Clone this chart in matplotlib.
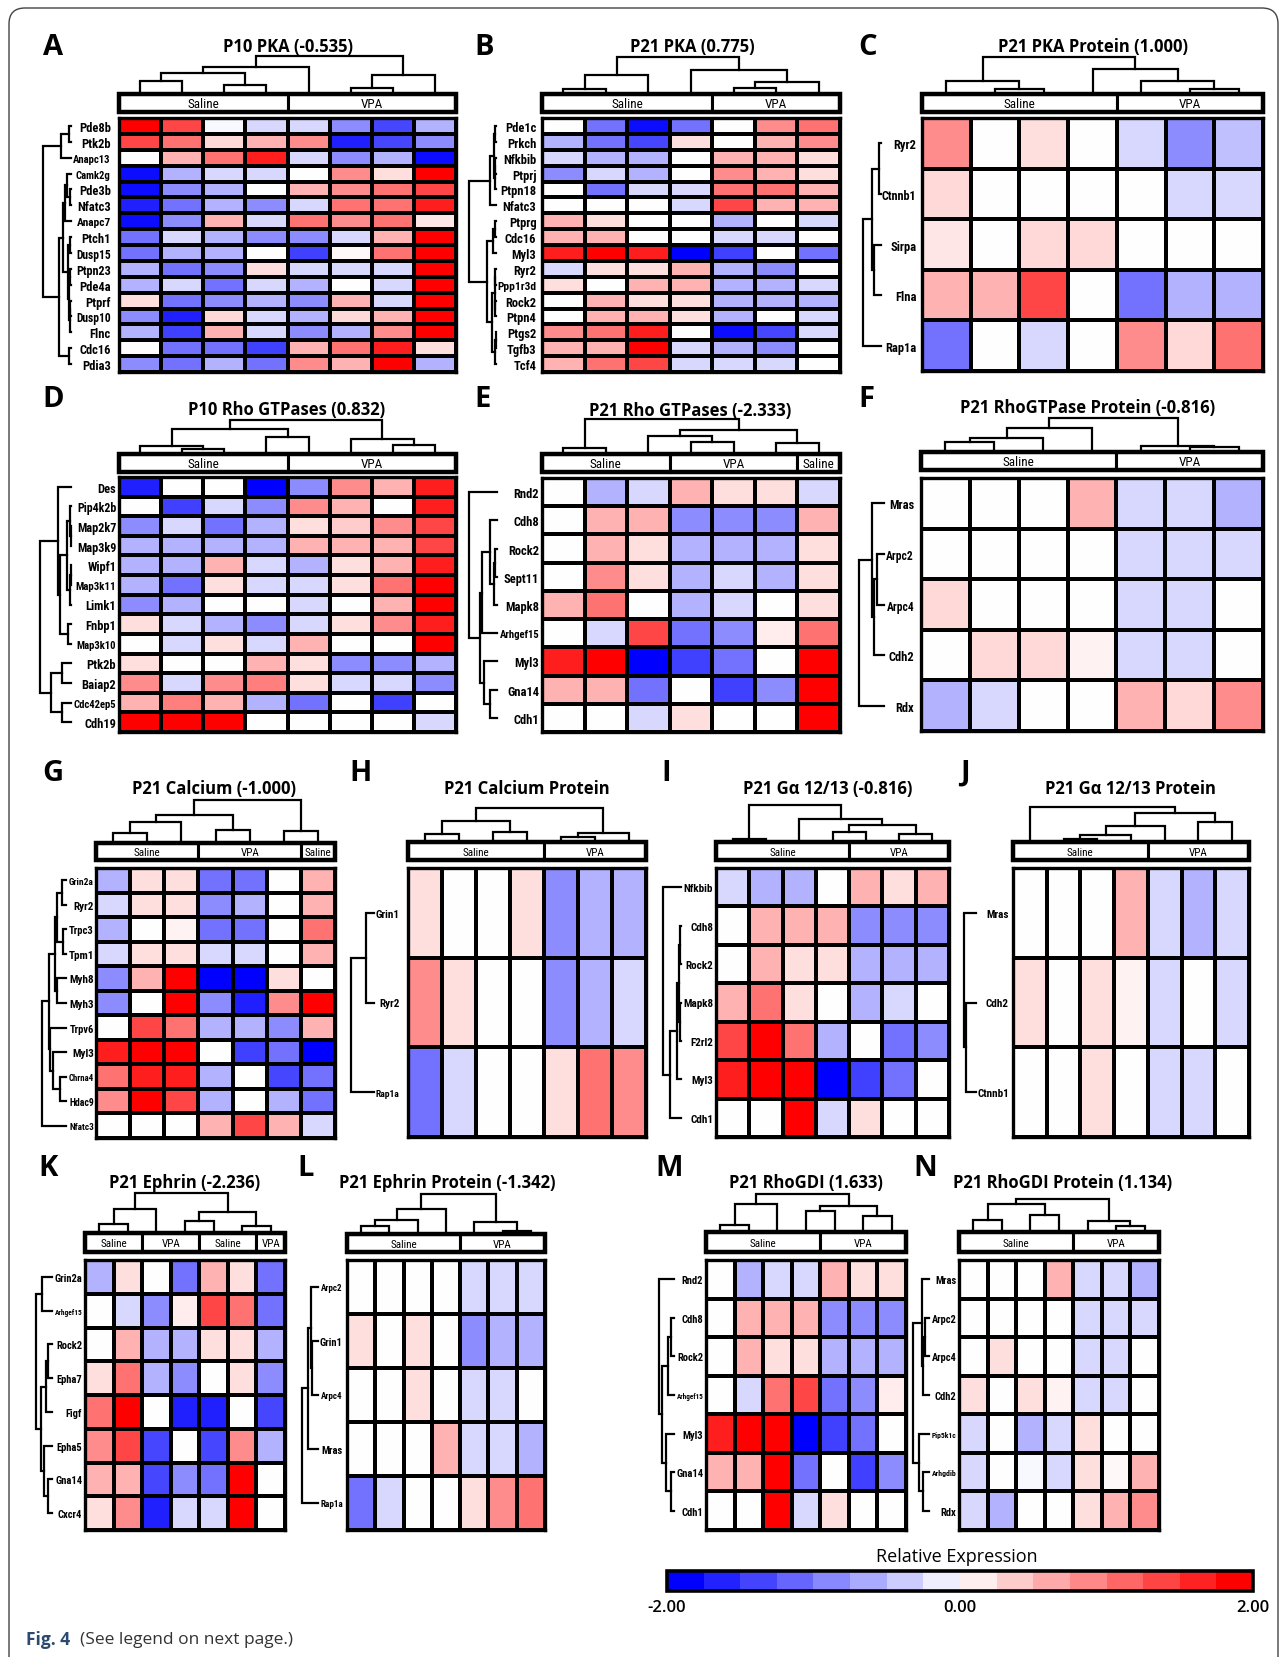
import numpy as np
import matplotlib
matplotlib.use("Agg")
import matplotlib.pyplot as plt
from matplotlib import font_manager
from matplotlib.font_manager import FontProperties
from matplotlib.textpath import TextPath
from matplotlib.colors import LinearSegmentedColormap, BoundaryNorm, Normalize
from matplotlib.patches import Rectangle, FancyBboxPatch
from matplotlib.cm import ScalarMappable

# ---------------- data ----------------
# trees: leaf = column/row index, node = (height, left, right)
A_title = "P10 PKA (-0.535)"
A_groups = [("Saline", 4), ("VPA", 4)]
A_genes = ["Pde8b", "Ptk2b", "Anapc13", "Camk2g", "Pde3b", "Nfatc3", "Anapc7", "Ptch1",
           "Dusp15", "Ptpn23", "Pde4a", "Ptprf", "Dusp10", "Flnc", "Cdc16", "Pdia3"]
A_vals = [[2, 1.45, -0.05, -0.3, -0.3, -0.9, -1.45, -0.6],
          [1.45, 1.1, 0.3, 0.6, 0.9, -1.75, -1.45, -0.9],
          [0, 0.6, 1.1, 1.75, -0.3, -0.9, -0.6, -1.9],
          [-1.9, -0.6, -0.3, -0.3, 0, 0.9, 0.25, 2],
          [-1.9, -0.9, -0.6, 0, 0.6, 0.9, 1.1, 1.45],
          [-1.75, -1.1, -0.6, -0.9, -0.3, 1.1, 1.1, 1.75],
          [-1.9, -0.9, 0.6, -0.3, 1.1, 0.9, 1.1, 0.2],
          [-1.1, -0.3, -0.6, -0.9, -0.9, -0.3, 0.6, 2],
          [-1.1, -0.6, -0.6, 0, -1.5, 0.05, 1.1, 2],
          [-0.6, -1.1, -0.9, 0.25, -0.3, -0.3, -0.3, 2],
          [-0.6, -0.3, -1.1, -0.3, -0.6, 0, -0.3, 2],
          [0.25, -1.1, -0.9, -0.6, -0.9, 0.6, -0.3, 2],
          [-0.9, -1.75, 0.3, -0.3, -0.6, 0.3, 0.6, 2],
          [-0.6, -1.5, 0.6, -0.3, -0.9, -0.6, 0.9, 2],
          [0, -1.1, -1.1, -1.5, 0.6, 1.1, 1.75, 0.25],
          [-0.9, -1.1, -0.6, -1.1, 0.9, 0.6, 2, -0.6]]
A_ctree = (112, (79, (62, (37, 0, 1), (27, 2, 3)), 4), (57, (17, 5, 6), 7))
A_rtree = (85, (30, (5, 0, 1), 2),
           (37, (25, (17, (13, 3, (2, 4, 5)), 6),
                 (10, (3, 7, 8), (6, (3, 9, 10), (4, (2, 11, 12), 13)))), (5, 14, 15)))

B_title = "P21 PKA (0.775)"
B_groups = [("Saline", 4), ("VPA", 3)]
B_genes = ["Pde1c", "Prkch", "Nfkbib", "Ptprj", "Ptpn18", "Nfatc3", "Ptprg", "Cdc16",
           "Myl3", "Ryr2", "Ppp1r3d", "Rock2", "Ptpn4", "Ptgs2", "Tgfb3", "Tcf4"]
B_vals = [[0, -1.1, -1.9, -1.1, 0, 0.9, 1.1],
          [-0.6, -1.1, -1.45, 0.25, 0, 0.6, 0.9],
          [-0.3, -0.6, -0.6, 0, 0.6, 0.6, 0.25],
          [-0.9, -0.3, -0.6, 0, 0.9, 0.6, 0.25],
          [0, -1.1, -0.3, -0.3, 1.1, 1.1, 0.6],
          [0, 0, 0, -0.3, 1.45, 0.6, 0.6],
          [0.6, 0.25, 0, 0, -0.6, 0, -0.3],
          [0.6, 0.6, 0, 0, -0.3, -0.3, 0],
          [1.75, 2, 1.75, -2, -1.5, 0, -1.1],
          [-0.3, 0.25, 0.25, 0.6, -0.6, -0.9, 0],
          [0.25, 0, 0.6, 0.6, -0.6, -0.6, -0.3],
          [0, 0.6, 0.25, 0.25, -0.6, -0.6, -0.6],
          [0, 0.6, 0.6, 0.25, -0.6, 0, -0.3],
          [0.9, 1.1, 1.75, 0, -1.9, -1.45, -0.3],
          [0.6, 0.6, 2, -0.3, -0.6, -0.9, 0],
          [0.6, 1.1, 1.45, -0.3, -0.3, -0.3, 0]]
B_ctree = (109, (57, (15, 0, 1), 2), (72, 3, (35, (17, 4, 5), 6)))
B_rtree = (80, (17, (6, (3, 0, 1), (4, (2, 2, 3), 4)), 5),
           (27, (8, (3, 6, 7), 8), (12, (3, (2, 9, 10), (2, 11, 12)), (3, (1, 13, 14), 15))))

C_title = "P21 PKA Protein (1.000)"
C_groups = [("Saline", 4), ("VPA", 3)]
C_genes = ["Ryr2", "Ctnnb1", "Sirpa", "Flna", "Rap1a"]
C_vals = [[0.9, 0, 0.25, 0, -0.3, -0.9, -0.5],
          [0.3, 0, 0, 0, 0, -0.3, -0.3],
          [0.2, 0, 0.3, 0.3, 0, 0, 0],
          [0.6, 0.6, 1.45, 0, -1.1, -0.6, -0.6],
          [-1.1, 0, -0.3, 0, 0.9, 0.3, 1.1]]
C_ctree = (109, (39, 0, (15, 1, 2)), (75, 3, (39, 4, (14, 5, 6))))
C_rtree = (55, (28, (5, 0, 1), (20, 2, 3)), 4)

D_title = "P10 Rho GTPases (0.832)"
D_groups = [("Saline", 4), ("VPA", 4)]
D_genes = ["Des", "Pip4k2b", "Map2k7", "Map3k9", "Wipf1", "Map3k11", "Limk1", "Fnbp1",
           "Map3k10", "Ptk2b", "Baiap2", "Cdc42ep5", "Cdh19"]
D_vals = [[-1.75, 0, 0, -2, -0.9, 0.9, 0.6, 1.75],
          [0, -1.5, -0.3, -0.9, 0.9, 0.6, 0, 1.75],
          [-0.9, -0.3, -1.1, -0.6, 0.25, 0.4, 0.9, 1.45],
          [-0.6, -0.6, -0.6, -0.6, 0.6, 0.6, 0.6, 1.45],
          [-0.6, -0.6, 0.6, -0.3, -0.6, 0.25, 0.6, 1.75],
          [-0.6, -1.1, 0.25, -0.3, -0.3, 0.25, 1.1, 2],
          [-0.9, -0.6, 0, 0, -0.3, 0, 0.6, 2],
          [0.25, -0.3, -0.6, -0.9, -0.3, 0.25, 0.9, 1.75],
          [0, -0.3, 0.25, -0.3, 0.6, 0, 0, 2],
          [0.25, 0, 0, 0.6, 0.25, -0.9, -0.9, -0.6],
          [0.9, -0.3, 0.9, 1.0, 0.25, -0.3, -0.3, -0.9],
          [0.6, 1.0, 0.6, -0.6, -1.1, 0, -1.5, 0],
          [2, 2, 2, 0, 0, 0, 0, -0.3]]
D_ctree = (100, (73, (23, 0, (15, 1, 2)), (50, 3, 4)), (45, 5, (27, 6, 7)))
D_rtree = (105, (45, 0, (38, (15, (5, 1, (3, 2, 3)), (6, (3, 4, 5), 6)), (12, 7, 8))),
           (68, (30, 9, 10), (30, 11, 12)))

E_title = "P21 Rho GTPases (-2.333)"
E_groups = [("Saline", 3), ("VPA", 3), ("Saline", 1)]
E_genes = ["Rnd2", "Cdh8", "Rock2", "Sept11", "Mapk8", "Arhgef15", "Myl3", "Gna14", "Cdh1"]
E_vals = [[0, -0.6, -0.3, 0.6, 0.25, 0.25, -0.3],
          [0, 0.6, 0.6, -0.9, -0.9, -0.9, 0.6],
          [0, 0.6, 0.25, -0.6, -0.6, -0.6, 0.25],
          [0, 0.9, 0.25, -0.6, -0.3, -0.6, 0.25],
          [0.6, 1.1, 0, -0.6, -0.3, 0, 0.25],
          [0, -0.3, 1.45, -1.1, -0.9, 0.15, 1.1],
          [1.75, 2, -2, -1.5, -1.1, 0, 2],
          [0.6, 0.6, -1.1, 0, -1.5, -0.9, 2],
          [0, 0, -0.3, 0.25, 0, 0, 2]]
E_ctree = (103, (17, 0, 1), (72, (52, 2, (35, 3, 4)), (33, 5, 6)))
E_rtree = (83, 0, (50, (45, (20, 1, (10, (5, 2, 3), 4)), 5), (40, 6, (20, 7, 8))))

F_title = "P21 RhoGTPase Protein (-0.816)"
F_groups = [("Saline", 4), ("VPA", 3)]
F_genes = ["Mras", "Arpc2", "Arpc4", "Cdh2", "Rdx"]
F_vals = [[0, 0, 0, 0.6, -0.3, -0.3, -0.6],
          [0, 0, 0, 0, -0.3, -0.3, -0.3],
          [0.3, 0, 0, 0, -0.3, -0.3, 0],
          [0, 0.3, 0.3, 0.1, -0.3, -0.3, 0],
          [-0.6, -0.3, 0, 0, 0.6, 0.3, 0.9]]
F_ctree = (98, (70, (40, (28, 0, 1), 2), 3), (18, 4, (13, 5, 6)))
F_rtree = (75, (35, 0, (30, (20, 1, 2), 3)), 4)

G_title = "P21 Calcium (-1.000)"
G_groups = [("Saline", 3), ("VPA", 3), ("Saline", 1)]
G_genes = ["Grin2a", "Ryr2", "Trpc3", "Tpm1", "Myh8", "Myh3", "Trpv6", "Myl3", "Chrna4",
           "Hdac9", "Nfatc3"]
G_vals = [[-0.6, 0.25, 0.25, -1.1, -1.1, 0, 0.6],
          [-0.3, 0.25, 0.25, -0.9, -0.6, 0, 0.6],
          [-0.6, 0, 0.1, -1.1, -1.1, 0, 1.1],
          [-0.3, 0.25, 0.25, -0.3, -0.3, 0, 0.6],
          [-0.9, 0.6, 2, -2, -2, 0.25, 0],
          [-0.9, 0, 2, -0.9, -1.75, 0.9, 2],
          [0, 1.45, 1.1, -0.6, -0.6, -0.9, 0.6],
          [1.75, 2, 2, 0, -1.5, -1.1, -2],
          [1.1, 1.75, 1.75, -0.6, 0, -1.45, -1.1],
          [0.9, 2, 1.45, -0.6, 0, -0.6, -1.1],
          [0, 0, 0, 0.6, 1.45, 0.6, -0.3]]
G_ctree = (125, (80, (60, (30, 0, 1), 2), (37, 3, 4)), (35, 5, 6))
G_rtree = (65, (47, (30, (25, (10, 0, 1), (8, 2, 3)), (25, 4, 5)),
                (43, 6, (35, 7, (17, 8, 9)))), 10)

H_title = "P21 Calcium Protein"
H_groups = [("Saline", 4), ("VPA", 3)]
H_genes = ["Grin1", "Ryr2", "Rap1a"]
H_vals = [[0.25, 0, 0, 0.25, -0.9, -0.6, -0.6],
          [0.9, 0.25, 0, 0, -0.9, -0.6, -0.3],
          [-1.1, -0.3, 0, 0, 0.25, 1.1, 0.9]]
H_ctree = (98, (61, (23, 0, 1), (28, 2, 3)), (26, (13, 4, 5), 6))
H_rtree = (70, (25, 0, 1), 2)

I_title = "P21 G\u03b1 12/13 (-0.816)"
I_groups = [("Saline", 4), ("VPA", 3)]
I_genes = ["Nfkbib", "Cdh8", "Rock2", "Mapk8", "F2rl2", "Myl3", "Cdh1"]
I_vals = [[-0.3, -0.6, -0.6, 0, 0.6, 0.25, 0.6],
          [0, 0.6, 0.6, 0.6, -0.9, -0.9, -0.9],
          [0, 0.6, 0.25, 0.25, -0.6, -0.6, -0.6],
          [0.6, 1.1, 0.25, 0, -0.6, -0.3, 0],
          [1.45, 2, 1.1, -0.6, 0, -1.1, -0.9],
          [1.75, 2, 2, -2, -1.5, -1.1, 0],
          [0, 0, 2, -0.3, 0.25, 0, 0]]
I_ctree = (108, (8, 0, 1), (68, 2, (50, (28, 3, 4), (23, 5, 6))))
I_rtree = (55, 0, (35, (13, (7, (3, 1, 2), (3, 3, 4)), 5), 6))

J_title = "P21 G\u03b1 12/13 Protein"
J_groups = [("Saline", 4), ("VPA", 3)]
J_genes = ["Mras", "Cdh2", "Ctnnb1"]
J_vals = [[0, 0, 0, 0.6, -0.3, -0.6, -0.3],
          [0.25, 0, 0.25, 0.1, -0.3, 0, -0.3],
          [0, 0, 0.25, 0, -0.3, -0.3, 0]]
J_ctree = (103, 0, (86, (48, (20, (10, 1, 2), 3), 4), (60, 5, 6)))
J_rtree = (30, 0, (25, 1, 2))

K_title = "P21 Ephrin (-2.236)"
K_groups = [("Saline", 2), ("VPA", 2), ("Saline", 2), ("VPA", 1)]
K_genes = ["Grin2a", "Arhgef15", "Rock2", "Epha7", "Figf", "Epha5", "Gna14", "Cxcr4"]
K_vals = [[-0.6, 0.25, 0, -1.1, 0.6, 0.25, -1.1],
          [0, -0.3, -0.9, 0.15, 1.45, 1.1, -1.1],
          [0, 0.6, -0.6, -0.6, 0.25, 0.25, -0.6],
          [0.25, 1.1, -0.6, -0.9, 0, 0.25, -0.9],
          [1.1, 2, 0, -1.75, -1.75, 0, -1.45],
          [0.9, 1.45, -1.45, 0, -1.45, 0.9, -0.6],
          [0.6, 0.6, -1.45, -0.9, -1.1, 2, 0],
          [0.25, 0.9, -1.75, -0.3, -0.3, 2, 0]]
K_ctree = (120, (72, (27, 0, 1), 2), (62, (37, 3, 4), (20, 5, 6)))
K_rtree = (62, (38, 0, 1), (42, (22, (15, 2, 3), 4), (30, 5, (15, 6, 7))))

L_title = "P21 Ephrin Protein (-1.342)"
L_groups = [("Saline", 4), ("VPA", 3)]
L_genes = ["Arpc2", "Grin1", "Arpc4", "Mras", "Rap1a"]
L_vals = [[0, 0, 0, 0, -0.3, -0.3, -0.3],
          [0.25, 0, 0.25, 0, -0.9, -0.6, -0.6],
          [0, 0, 0.25, 0, -0.3, -0.3, 0],
          [0, 0, 0, 0.6, -0.3, -0.3, -0.6],
          [-1.1, -0.3, 0, 0, 0.25, 0.9, 1.1]]
L_ctree = (117, (74, (42, (24, 0, 1), 2), 3), (35, 4, (10, 5, 6)))
L_rtree = (50, (30, (22, 0, (20, 1, 2)), 3), 4)

M_title = "P21 RhoGDI (1.633)"
M_groups = [("Saline", 4), ("VPA", 3)]
M_genes = ["Rnd2", "Cdh8", "Rock2", "Arhgef15", "Myl3", "Gna14", "Cdh1"]
M_vals = [[0, -0.6, -0.3, -0.3, 0.6, 0.25, 0.25],
          [0, 0.6, 0.6, 0.6, -0.9, -0.9, -0.9],
          [0, 0.6, 0.25, 0.25, -0.6, -0.6, -0.6],
          [0, -0.3, 1.1, 1.45, -1.1, -0.9, 0.15],
          [1.75, 2, 2, -2, -1.5, -1.1, 0],
          [0.6, 0.6, 2, -1.1, 0, -1.5, -0.9],
          [0, 0, 2, -0.3, 0.25, 0, 0]]
M_ctree = (115, (85, (22, 0, 1), 2), (80, (65, 3, 4), (48, 5, 6)))
M_rtree = (52, 0, (42, (22, (10, 1, 2), 3), (28, 4, (12, 5, 6))))

N_title = "P21 RhoGDI Protein (1.134)"
N_groups = [("Saline", 4), ("VPA", 3)]
N_genes = ["Mras", "Arpc2", "Arpc4", "Cdh2", "Pip5k1c", "Arhgdib", "Rdx"]
N_vals = [[0, 0, 0, 0.6, -0.3, -0.3, -0.6],
          [0, 0, 0, 0, -0.3, -0.3, -0.3],
          [0, 0.25, 0, 0, -0.3, -0.3, 0],
          [0.25, 0, 0.25, 0.1, -0.3, -0.3, 0],
          [-0.3, 0, -0.6, -0.3, 0.25, 0, 0],
          [-0.3, 0, -0.05, -0.3, 0.25, 0.05, 0.6],
          [-0.3, -0.6, 0, 0, 0.25, 0.6, 0.9]]
N_ctree = (100, (85, (35, 0, 1), (52, 2, 3)), (32, 4, (18, 5, 6)))
N_rtree = (55, (25, 0, (20, (15, 1, 2), 3)), (35, 4, (20, 5, 6)))

cbar_ticks = [-2, 0, 2]
cbar_labels = ["-2.00", "0.00", "2.00"]

# ---------------- layout (pixels) ----------------
# hm: heatmap box, gb: group bar y range, cd: dendrogram top, rd: row dendro x range
# lfs: gene label size, floor: smallest allowed shrink for long labels
LAYOUT = {
    "A": dict(hm=(119, 119, 456, 373), gb=(95, 113), cd=57, rd=(43, 74), title=(288, 47), letter=(43, 55), pad=6, lfs=9, floor=0.85, gfs=9.5),
    "B": dict(hm=(542, 119, 840, 373), gb=(95, 113), cd=58, rd=(469, 496), title=(692, 47), letter=(474, 55), pad=4, lfs=9, floor=0.85, gfs=9.5),
    "C": dict(hm=(922, 119, 1263, 372), gb=(95, 113), cd=58, rd=(863, 881), title=(1093, 47), letter=(858, 55), pad=4, lfs=9, floor=0.85, gfs=9.5),
    "D": dict(hm=(119, 478, 456, 733), gb=(455, 473), cd=421, rd=(40, 75), title=(287, 410), letter=(42, 407), pad=2, lfs=9, floor=0.85, gfs=9.5),
    "E": dict(hm=(542, 479, 840, 733), gb=(455, 473), cd=420, rd=(469, 497), title=(690, 411), letter=(474, 407), pad=2, lfs=9, floor=0.85, gfs=9.5),
    "F": dict(hm=(921, 479, 1263, 732), gb=(453, 471), cd=419, rd=(859, 884), title=(1088, 408), letter=(858, 407), pad=5, lfs=9, floor=0.85, gfs=9.5),
    "G": dict(hm=(96, 869, 335, 1139), gb=(844, 861), cd=801, rd=(42, 67), title=(214, 789), letter=(42, 781), pad=1.5, lfs=8, floor=0.8, gfs=8),
    "H": dict(hm=(408, 869, 646, 1138), gb=(843, 861), cd=809, rd=(351, 374), title=(527, 789), letter=(349, 781), pad=6, lfs=8, floor=0.85, gfs=8),
    "I": dict(hm=(716, 869, 949, 1138), gb=(843, 861), cd=806, rd=(663, 681), title=(828, 789), letter=(661, 781), pad=2, lfs=8, floor=0.85, gfs=8),
    "J": dict(hm=(1013, 869, 1249, 1138), gb=(843, 861), cd=808, rd=(964, 974), title=(1130, 789), letter=(960, 781), pad=3, lfs=8, floor=0.85, gfs=8),
    "K": dict(hm=(85, 1261, 285, 1531), gb=(1234, 1253), cd=1194, rd=(36, 52), title=(185, 1183), letter=(38, 1176), pad=2, lfs=7.6, floor=0.55, gfs=8),
    "L": dict(hm=(347, 1261, 545, 1531), gb=(1235, 1253), cd=1195, rd=(302, 319), title=(447, 1183), letter=(297, 1176), pad=3, lfs=7.6, floor=0.85, gfs=8),
    "M": dict(hm=(706, 1261, 906, 1531), gb=(1233, 1253), cd=1195, rd=(659, 674), title=(806, 1183), letter=(655, 1176), pad=2, lfs=7.6, floor=0.65, gfs=8),
    "N": dict(hm=(959, 1261, 1159, 1531), gb=(1233, 1253), cd=1200, rd=(913, 929), title=(1063, 1183), letter=(913, 1176), pad=2, lfs=7.6, floor=0.65, gfs=8),
}

PANELS = {
    "A": (A_title, A_groups, A_genes, A_vals, A_ctree, A_rtree),
    "B": (B_title, B_groups, B_genes, B_vals, B_ctree, B_rtree),
    "C": (C_title, C_groups, C_genes, C_vals, C_ctree, C_rtree),
    "D": (D_title, D_groups, D_genes, D_vals, D_ctree, D_rtree),
    "E": (E_title, E_groups, E_genes, E_vals, E_ctree, E_rtree),
    "F": (F_title, F_groups, F_genes, F_vals, F_ctree, F_rtree),
    "G": (G_title, G_groups, G_genes, G_vals, G_ctree, G_rtree),
    "H": (H_title, H_groups, H_genes, H_vals, H_ctree, H_rtree),
    "I": (I_title, I_groups, I_genes, I_vals, I_ctree, I_rtree),
    "J": (J_title, J_groups, J_genes, J_vals, J_ctree, J_rtree),
    "K": (K_title, K_groups, K_genes, K_vals, K_ctree, K_rtree),
    "L": (L_title, L_groups, L_genes, L_vals, L_ctree, L_rtree),
    "M": (M_title, M_groups, M_genes, M_vals, M_ctree, M_rtree),
    "N": (N_title, N_groups, N_genes, N_vals, N_ctree, N_rtree),
}

# ---------------- fonts ----------------
ttf = [f.fname for f in font_manager.fontManager.ttflist]


def find_narrow(bold):
    # prefer a real condensed / narrow face if one is installed
    hits = []
    for f in ttf:
        low = f.lower().replace("_", "").replace(" ", "").replace("-", "")
        if "italic" in low or "oblique" in low or "mono" in low:
            continue
        if "serif" in low and "sans" not in low:
            continue
        if not ("condensed" in low or "narrow" in low):
            continue
        if any(w in low for w in ("semi", "extra", "light", "thin", "medium", "black")):
            continue
        if bold != ("bold" in low):
            continue
        rank = 0 if "liberationsansnarrow" in low else 1 if "robotocondensed" in low else 2
        hits.append((rank, f))
    return sorted(hits)[0][1] if hits else None


nb_path = find_narrow(True)
nr_path = find_narrow(False)
names = {f.name for f in font_manager.fontManager.ttflist}
head_family = "Open Sans" if "Open Sans" in names else "DejaVu Sans"
label_family = "Roboto" if "Roboto" in names else "Liberation Sans"


def narrow_bold(size):
    if nb_path:
        return FontProperties(fname=nb_path, size=size)
    return FontProperties(family=label_family, weight="bold", size=size * 0.88)


def narrow_reg(size):
    if nr_path:
        return FontProperties(fname=nr_path, size=size)
    return FontProperties(family=label_family, size=size)


def text_px(s, fp):
    # width of a string in pixels (figure at 100 dpi)
    return TextPath((0, 0), s, prop=fp).get_extents().width * 100 / 72


# ---------------- figure ----------------
W, H = 1287, 1658
fig = plt.figure(figsize=(W / 100, H / 100), dpi=100)
cmap = LinearSegmentedColormap.from_list("bwr_expr", ["#0000ff", "#ffffff", "#ff0000"])
norm = Normalize(vmin=-2, vmax=2)

bg = fig.add_axes([0, 0, 1, 1], zorder=-5)
bg.set_xlim(0, W)
bg.set_ylim(H, 0)
bg.axis("off")


def px_axes(x0, y0, x1, y1):
    return fig.add_axes([x0 / W, 1 - y1 / H, (x1 - x0) / W, (y1 - y0) / H])


def draw_tree(ax, node, orient):
    if isinstance(node, int):
        return node + 0.5, 0.0
    h, left, right = node
    p1, h1 = draw_tree(ax, left, orient)
    p2, h2 = draw_tree(ax, right, orient)
    ps = [p1, p1, p2, p2]
    hs = [h1, h, h, h2]
    if orient == "top":
        ax.plot(ps, hs, color="black", lw=1.6, clip_on=False, solid_joinstyle="miter")
    else:
        ax.plot(hs, ps, color="black", lw=1.6, clip_on=False, solid_joinstyle="miter")
    return (p1 + p2) / 2, h


for key, (title, groups, genes, vals, ctree, rtree) in PANELS.items():
    lay = LAYOUT[key]
    x0, y0, x1, y1 = lay["hm"]
    arr = np.array(vals, dtype=float)
    nr, nc = arr.shape
    rx0, rx1 = lay["rd"]

    # gene label sizes: shrink only the long ones, and only down to the floor
    label_right = x0 - lay["pad"] * 100 / 72
    room = label_right - rx1 - 3
    props, widest = [], 0
    for g in genes:
        fp = narrow_bold(lay["lfs"])
        base = fp.get_size_in_points()
        wpx = text_px(g, fp)
        if wpx > room:
            fp.set_size(max(base * lay["floor"], base * room / wpx))
        props.append(fp)
        widest = max(widest, text_px(g, fp))
    rx1 = max(rx0 + 12, min(rx1, label_right - widest - 3))

    # heatmap
    ax = px_axes(x0, y0, x1, y1)
    ax.pcolormesh(arr, cmap=cmap, norm=norm, edgecolors="black", linewidth=1.6)
    ax.set_xlim(0, nc)
    ax.set_ylim(nr, 0)
    ax.set_xticks([])
    ax.set_yticks(np.arange(nr) + 0.5)
    ax.set_yticklabels(genes)
    for lab, fp in zip(ax.get_yticklabels(), props):
        lab.set_fontproperties(fp)
    ax.tick_params(axis="y", length=0, pad=lay["pad"])
    for s in ax.spines.values():
        s.set_linewidth(2.4)

    # group bar
    gy0, gy1 = lay["gb"]
    gax = px_axes(x0, gy0, x1, gy1)
    gax.set_xlim(0, nc)
    gax.set_ylim(0, 1)
    gax.axis("off")
    start = 0
    for name, n in groups:
        gax.add_patch(Rectangle((start, 0), n, 1, fc="white", ec="black", lw=2.2, clip_on=False))
        gax.text(start + n / 2, 0.45, name, ha="center", va="center",
                 fontproperties=narrow_reg(lay["gfs"]))
        start += n
    gax.add_patch(Rectangle((0, 0), nc, 1, fill=False, ec="black", lw=3.2, clip_on=False))

    # column dendrogram
    dax = px_axes(x0, lay["cd"], x1, gy0)
    dax.set_xlim(0, nc)
    dax.set_ylim(0, ctree[0])
    dax.axis("off")
    draw_tree(dax, ctree, "top")

    # row dendrogram
    rax = px_axes(rx0, y0, rx1, y1)
    rax.set_xlim(rtree[0], 0)
    rax.set_ylim(nr, 0)
    rax.axis("off")
    draw_tree(rax, rtree, "left")

    # title and letter
    bg.text(lay["title"][0], lay["title"][1], title, ha="center", va="center",
            fontsize=12, fontweight="bold", family=head_family)
    bg.text(lay["letter"][0], lay["letter"][1], key, ha="left", va="baseline",
            fontsize=21, fontweight="bold", family=head_family)

# colour bar
cax = px_axes(667, 1572, 1253, 1592)
sm = ScalarMappable(norm=BoundaryNorm(np.linspace(-2, 2, 17), cmap.N), cmap=cmap)
cb = fig.colorbar(sm, cax=cax, orientation="horizontal")
cb.set_ticks([])
cax.xaxis.set_ticks([], minor=True)
cax.tick_params(which="both", length=0)
cb.outline.set_linewidth(2.6)
bg.text(957, 1557, "Relative Expression", ha="center", va="center", fontsize=13, family=head_family)
for t, lab in zip(cbar_ticks, cbar_labels):
    xt = 667 + (t + 2) / 4 * (1253 - 667)
    bg.text(xt, 1608, lab, ha="center", va="center", fontsize=12, family=head_family,
            fontweight="semibold")

# page frame and caption
bg.add_patch(FancyBboxPatch((9, 9), W - 18, H + 40, boxstyle="round,pad=0,rounding_size=16",
                            fill=False, ec="#444444", lw=1.0))
bg.text(26, 1640, "Fig. 4", ha="left", va="center", fontsize=12.5, fontweight="bold",
        color="#2c4a6e", family=head_family)
bg.text(80, 1640, "(See legend on next page.)", ha="left", va="center", fontsize=12.5,
        color="#333333", family=head_family)

fig.savefig("out.png", dpi=100)
